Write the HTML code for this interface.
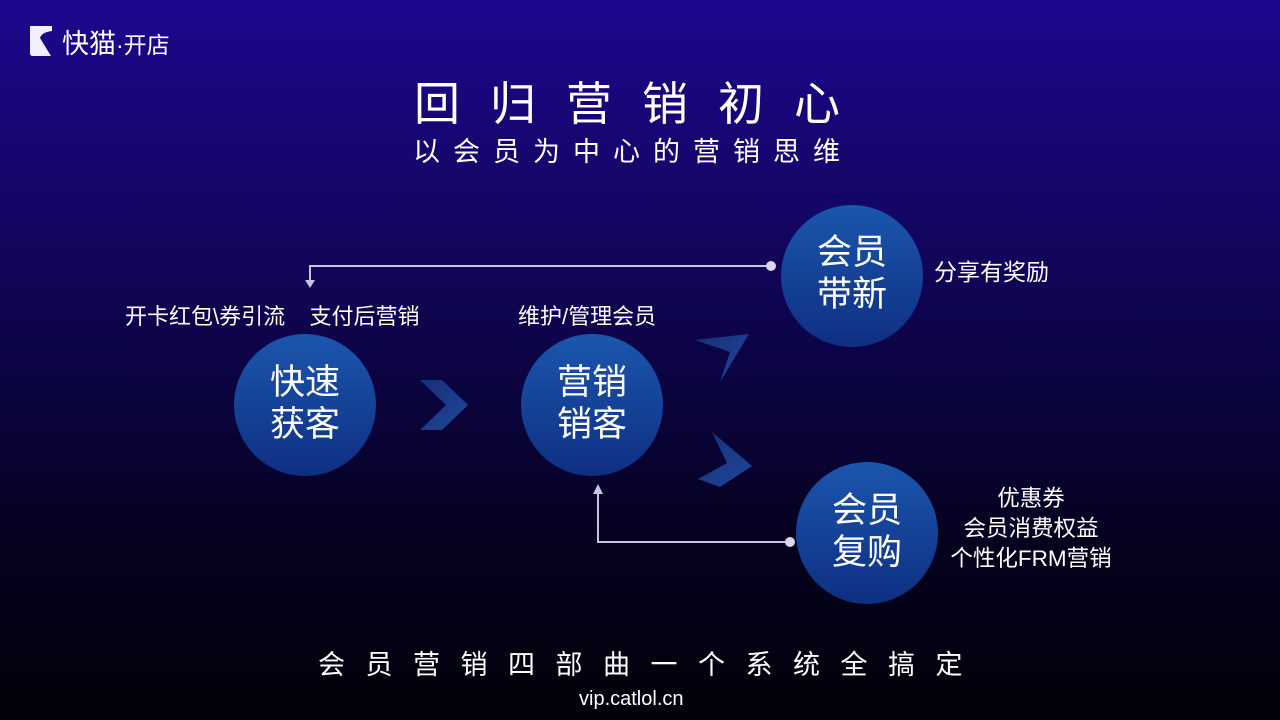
<!DOCTYPE html>
<html><head><meta charset="utf-8"><style>
html,body{margin:0;padding:0}
body{width:1280px;height:720px;overflow:hidden;background:linear-gradient(180deg,#1c078e 0%,#15066a 25%,#0c0445 50%,#050220 75%,#020108 100%);font-family:"Liberation Sans","Noto Sans CJK SC",sans-serif;position:relative;color:#fff}
.t{position:absolute;white-space:nowrap}
</style></head><body>
<svg width="1280" height="720" style="position:absolute;left:0;top:0">
<defs>
<linearGradient id="cg" x1="0" y1="0" x2="0" y2="1"><stop offset="0" stop-color="#1b56ad"/><stop offset="1" stop-color="#0e2f82"/></linearGradient>
<linearGradient id="ch" x1="0" y1="0" x2="1" y2="1"><stop offset="0" stop-color="#172f78"/><stop offset="1" stop-color="#1f479a"/></linearGradient>
</defs>
<path d="M30 26 h22 v5 q-10 1 -12 7 l11 18 h-18 q-3 0 -3 -3 z" fill="#f0f0ff"/>
<circle cx="305" cy="405" r="71" fill="url(#cg)"/>
<circle cx="592" cy="405" r="71" fill="url(#cg)"/>
<circle cx="852" cy="276" r="71" fill="url(#cg)"/>
<circle cx="867" cy="533" r="71" fill="url(#cg)"/>
<polygon points="420,380 442,380 468,405 442,430 420,430 446,405" fill="url(#ch)"/>
<polygon points="695,340 749,334 720,382 730,352" fill="url(#ch)"/>
<polygon points="712,432 752,466 720,487 698,479 727,463" fill="url(#ch)"/>
<g stroke="#c8c4e0" stroke-width="2" fill="none">
<polyline points="771,266 310,266 310,282"/>
<polyline points="790,542 598,542 598,492"/>
</g>
<circle cx="771" cy="266" r="5" fill="#d8d6e8"/>
<circle cx="790" cy="542" r="5" fill="#d8d6e8"/>
<polygon points="305,280 315,280 310,288" fill="#c8c4e0"/>
<polygon points="593,494 603,494 598,484" fill="#c8c4e0"/>
</svg>
<div class="t" style="left:62px;top:22px;font-size:27px">快猫<span style="font-size:23px">·开店</span></div>
<div class="t" style="left:414px;top:68px;font-size:46px;letter-spacing:30px">回归营销初心</div>
<div class="t" style="left:413px;top:130px;font-size:27px;letter-spacing:13px">以会员为中心的营销思维</div>
<div class="t" style="left:125px;top:299px;font-size:22px">开卡红包\券引流&nbsp;&nbsp;&nbsp;&nbsp;支付后营销</div>
<div class="t" style="left:518px;top:299px;font-size:22px">维护/管理会员</div>
<div class="t" style="left:934px;top:253px;font-size:23px">分享有奖励</div>
<div class="t" style="left:942px;top:484px;font-size:22.5px;text-align:center;line-height:30px;width:178px">优惠券<br>会员消费权益<br>个性化FRM营销</div>
<div class="t" style="left:265px;top:362px;font-size:35px;line-height:42px;text-align:center;width:80px">快速<br>获客</div>
<div class="t" style="left:552px;top:362px;font-size:35px;line-height:42px;text-align:center;width:80px">营销<br>销客</div>
<div class="t" style="left:812px;top:232px;font-size:35px;line-height:42px;text-align:center;width:80px">会员<br>带新</div>
<div class="t" style="left:827px;top:490px;font-size:35px;line-height:42px;text-align:center;width:80px">会员<br>复购</div>
<div class="t" style="left:318px;top:643px;font-size:27px;letter-spacing:20.5px">会员营销四部曲一个系统全搞定</div>
<div class="t" style="left:579px;top:688px;font-size:20px">vip.catlol.cn</div>
</body></html>
